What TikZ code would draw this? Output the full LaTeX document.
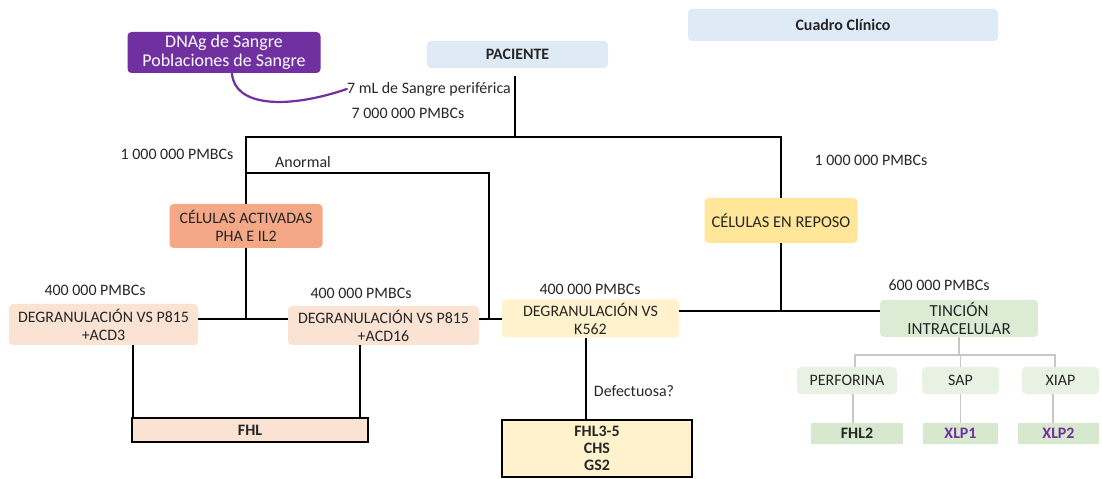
\documentclass[tikz,border=0pt]{standalone}
\usepackage{fontspec}
\setmainfont{Carlito}
\begin{document}
\begin{tikzpicture}[x=1bp,y=-1bp,
  every node/.style={font=\fontsize{16}{18}\selectfont, text=black!85, inner sep=0pt, align=center},
  box/.style={rectangle, rounded corners=4bp, draw=none},
  framed/.style={rectangle, draw=black, line width=1.3bp},
  conn/.style={draw=black, line width=2.4bp},
  gconn/.style={draw=black!22, line width=1.5bp},
  lbl/.style={font=\fontsize{16}{18}\selectfont}
]
\definecolor{cblue}{HTML}{DEEBF7}
\definecolor{cpurple}{HTML}{7030A0}
\definecolor{csalmon}{HTML}{F4A886}
\definecolor{cpeach}{HTML}{FBE3D3}
\definecolor{creposo}{HTML}{FFE699}
\definecolor{cyel}{HTML}{FFF2CC}
\definecolor{cgreen}{HTML}{DCEBD3}
\definecolor{clgreen}{HTML}{E8F2E2}
\definecolor{cdgreen}{HTML}{D6E8CD}
\useasboundingbox (0,0) rectangle (1102,479);
\fill[white] (0,0) rectangle (1102,479);

% boxes
\node[box, fill=cblue, minimum width=310bp, minimum height=32bp] (cuadro) at (843,25) {\bfseries Cuadro Clínico};
\node[box, fill=cblue, minimum width=181bp, minimum height=27bp] (paciente) at (517.5,54.5) {\bfseries PACIENTE};
\node[box, fill=cpurple, minimum width=193bp, minimum height=41bp, text=white, font=\fontsize{18}{19}\selectfont] (dna) at (224,52.5) {DNAg de Sangre\\Poblaciones de Sangre};
\node[box, fill=csalmon, minimum width=153bp, minimum height=44bp] (act) at (246,226) {CÉLULAS ACTIVADAS\\PHA E IL2};
\node[box, fill=creposo, minimum width=153bp, minimum height=45bp, font=\fontsize{16.5}{18}\selectfont] (reposo) at (781,220.5) {CÉLULAS EN REPOSO};
\node[box, fill=cpeach, minimum width=189bp, minimum height=41bp] (acd3) at (103.5,324.5) {DEGRANULACIÓN VS P815\\+ACD3};
\node[box, fill=cpeach, minimum width=191bp, minimum height=39bp] (acd16) at (383.5,325.5) {DEGRANULACIÓN VS P815\\+ACD16};
\node[box, fill=cyel, minimum width=177bp, minimum height=38bp] (k562) at (590.5,318.5) {DEGRANULACIÓN VS\\K562};
\node[box, fill=cgreen, minimum width=158bp, minimum height=37bp, font=\fontsize{17}{18.5}\selectfont] (tincion) at (959,318.5) {TINCIÓN\\INTRACELULAR};
\node[box, fill=clgreen, minimum width=100bp, minimum height=27bp] (perf) at (847,380.5) {PERFORINA};
\node[box, fill=clgreen, minimum width=77bp, minimum height=27bp] (sap) at (960.5,380.5) {SAP};
\node[box, fill=clgreen, minimum width=77bp, minimum height=27bp] (xiap) at (1060.5,380.5) {XIAP};
\node[rectangle, fill=cdgreen, minimum width=92bp, minimum height=21bp] (fhl2) at (857,433.5) {\bfseries FHL2};
\node[rectangle, fill=cdgreen, minimum width=75bp, minimum height=21bp, text=cpurple] (xlp1) at (960.5,433.5) {\bfseries XLP1};
\node[rectangle, fill=cdgreen, minimum width=81bp, minimum height=21bp, text=cpurple] (xlp2) at (1058.5,433.5) {\bfseries XLP2};
\node[framed, fill=cpeach, minimum width=236bp, minimum height=24bp] (fhl) at (250,430) {\bfseries FHL};
\node[framed, fill=cyel, minimum width=190bp, minimum height=57bp, font=\fontsize{16}{17}\selectfont] (fhl35) at (597,448.5) {\bfseries FHL3-5\\\bfseries CHS\\\bfseries GS2};

% labels
\node[lbl] (l7ml) at (429,89) {7 mL de Sangre periférica};
\node[lbl] (l7m) at (408,113) {7 000 000 PMBCs};
\node[lbl] (l1mL) at (177,154) {1 000 000 PMBCs};
\node[lbl] (lanor) at (303,162) {Anormal};
\node[lbl] (l1mR) at (871,160) {1 000 000 PMBCs};
\node[lbl] (l400a) at (95,290) {400 000 PMBCs};
\node[lbl] (l400b) at (361,293) {400 000 PMBCs};
\node[lbl] (l400c) at (590,289) {400 000 PMBCs};
\node[lbl] (l600) at (939,285) {600 000 PMBCs};
\node[lbl] (ldef) at (634,391) {Defectuosa?};

% coordinates
\coordinate (ptop) at (515,76);
\coordinate (jtop) at (515,137);
\coordinate (an) at (246,173);
\coordinate (an2) at (489,319);
\coordinate (m1) at (246,319);
\coordinate (m2) at (781,311);
\coordinate (x3) at (133,0);
\coordinate (x16) at (360,0);
\coordinate (xk) at (586,0);
\coordinate (gt) at (959,355);

% purple curve
\draw[cpurple, line width=2.2bp, line cap=round] (dna.south -| 232,0) .. controls (234,106) and (285,110) .. (l7ml.west);

% black connectors
\draw[conn] (ptop) -- (jtop);
\draw[conn] (act.north) -- (act.north |- jtop) -- (reposo.north |- jtop) -- (reposo.north);
\draw[conn] (an) -| (an2);
\draw[conn] (acd16.east |- an2) -- (k562.west |- an2);
\draw[conn] (act.south) -- (m1);
\draw[conn] (acd3.east |- m1) -- (acd16.west |- m1);
\draw[conn] (reposo.south) -- (m2);
\draw[conn] (k562.east |- m2) -- (tincion.west |- m2);
\draw[conn] (acd3.south -| x3) -- (fhl.north -| x3);
\draw[conn] (acd16.south -| x16) -- (fhl.north -| x16);
\draw[conn] (k562.south -| xk) -- (fhl35.north -| xk);

% grey tree
\draw[gconn] (tincion.south) -- (gt);
\draw[gconn] (perf.north -| 855,0) |- (gt) -| (xiap.north -| 1055,0);
\draw[gconn] (gt -| sap.north) -- (sap.north);
\draw[gconn] (perf.south -| 853,0) -- (fhl2.north -| 853,0);
\draw[gconn] (sap.south) -- (xlp1.north);
\draw[gconn] (xiap.south -| 1053,0) -- (xlp2.north -| 1053,0);
\end{tikzpicture}
\end{document}
